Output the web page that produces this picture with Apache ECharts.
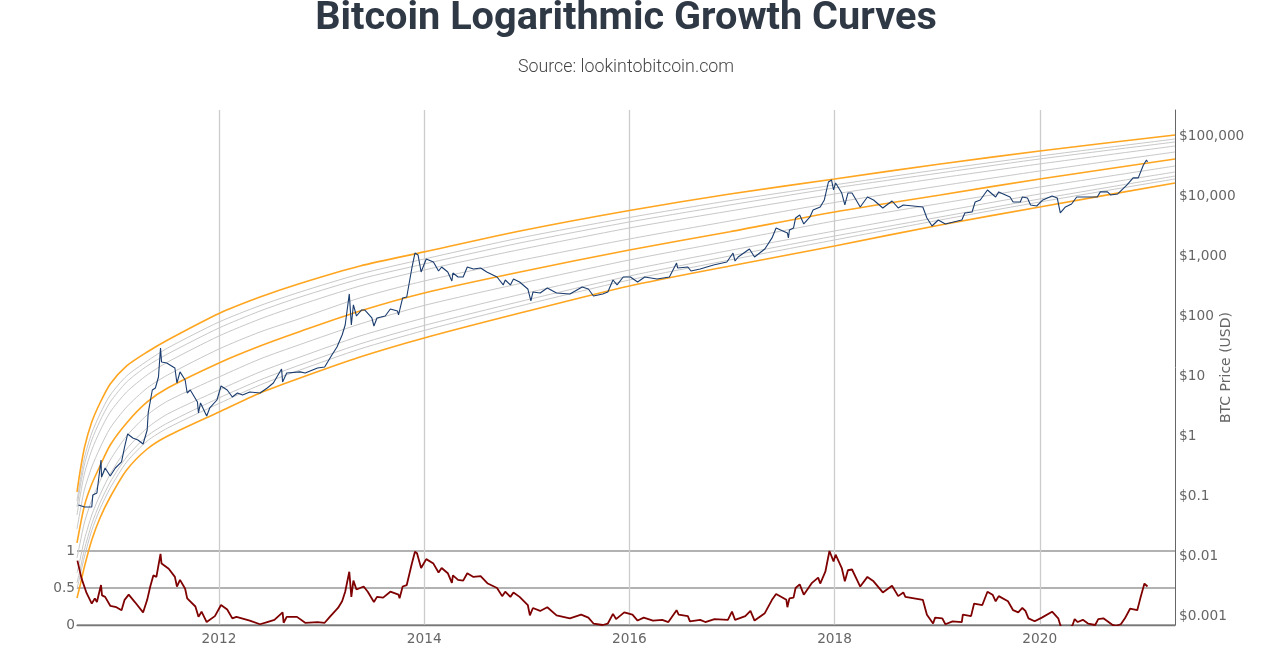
<!DOCTYPE html>
<html lang="en">
<head>
<meta charset="UTF-8">
<title>Bitcoin Logarithmic Growth Curves</title>
<script src="https://cdn.jsdelivr.net/npm/echarts@6/dist/echarts.min.js"></script>
<style>
html,body{margin:0;padding:0;background:#fff}
#chart{width:1280px;height:650px}
</style>
</head>
<body>
<div id="chart"></div>
<script>
var yearTicks = [2012, 2014, 2016, 2018, 2020];
// sample dates (decimal years) for the growth curves
var curveYears = [2010.616, 2010.645, 2010.69, 2010.76, 2010.84, 2010.94, 2011.10, 2011.30, 2011.50, 2012, 2012.40, 2012.79, 2013.374, 2014, 2014.934, 2016, 2016.98, 2018, 2019.03, 2020, 2021.318];
// orange curves
var upperBand = [.117, .251, .656, 1.71, 3.55, 7.36, 14.7, 25.1, 39.8, 110, 207, 348, 681, 1170, 2610, 5730, 10800, 19200, 34200, 56200, 104000];
var middleBand = [.0165, .0304, .0708, .158, .316, .708, 1.65, 3.69, 6.31, 16.5, 31.6, 55.2, 121, 242, 541, 1260, 2540, 5410, 10400, 19200, 41400];
var lowerBand = [.002, .00316, .00681, .0185, .043, .0962, .271, .607, 1, 2.51, 5.21, 9.26, 20.7, 43, 112, 316, 681, 1470, 3290, 6560, 16500];
// gray curves between them
var grayA = [.0825, .171, .447, 1.12, 2.33, 4.82, 10, 17.8, 29.3, 79.4, 149, 251, 501, 891, 2000, 4380, 8370, 15300, 27700, 46400, 89100];
var grayB = [.0656, .136, .342, .858, 1.78, 3.69, 7.94, 14.7, 23.3, 63.1, 121, 207, 414, 736, 1650, 3690, 7080, 13600, 24200, 41400, 79400];
var grayC = [.0482, .0962, .242, .584, 1.21, 2.51, 5.41, 10.4, 17.1, 46.4, 89.1, 153, 316, 584, 1280, 2930, 5620, 10800, 20000, 34200, 68100];
var grayD = [.0282, .0541, .131, .304, .631, 1.36, 3.04, 6.31, 10.4, 28.2, 54.1, 90.7, 200, 383, 841, 1920, 3830, 7790, 14700, 26100, 54100];
var grayE = [.00926, .0162, .0369, .0858, .178, .398, 1, 2.24, 3.83, 9.62, 19.2, 33.5, 73.6, 150, 348, 858, 1780, 3830, 7500, 14100, 31600];
var grayF = [.00521, .00858, .0192, .0482, .104, .233, .607, 1.36, 2.33, 5.84, 11.7, 20.7, 46.4, 92.6, 228, 584, 1240, 2610, 5470, 10800, 25100];
var grayG = [.00355, .00584, .0131, .0342, .0764, .171, .447, 1, 1.65, 4.3, 8.58, 15.3, 34.2, 69.5, 174, 464, 1000, 2150, 4470, 8910, 21500];
var grayH = [.00282, .00464, .01, .0267, .0607, .136, .369, .825, 1.36, 3.48, 7.08, 12.6, 28.2, 57.3, 147, 398, 858, 1850, 3980, 7940, 19200];

// BTC price [year, usd]
var btcPrice = [[2010.63,.0708],[2010.69,.0656],[2010.76,.0656],[2010.77,.104],[2010.81,.112],[2010.85,.398],[2010.855,.207],[2010.89,.293],[2010.94,.215],[2010.99,.293],[2011.05,.369],[2011.08,.656],[2011.11,1.08],[2011.16,.926],[2011.21,.858],[2011.26,.736],[2011.30,1.26],[2011.31,2.42],[2011.35,5.84],[2011.38,6.31],[2011.41,9.62],[2011.43,29.3],[2011.44,17.1],[2011.49,16.5],[2011.57,13.6],[2011.59,7.64],[2011.62,11.7],[2011.67,8.58],[2011.69,5.21],[2011.72,5.84],[2011.79,3.69],[2011.80,2.42],[2011.82,3.55],[2011.88,2.15],[2011.91,2.93],[2011.98,3.98],[2012.02,6.81],[2012.08,5.84],[2012.13,4.47],[2012.18,5.21],[2012.23,4.82],[2012.30,5.41],[2012.40,5.21],[2012.47,6.31],[2012.53,7.64],[2012.61,13.1],[2012.62,7.94],[2012.66,11.2],[2012.79,11.7],[2012.84,11.2],[2012.96,13.6],[2013.03,14.1],[2013.10,22.4],[2013.15,30.4],[2013.20,48.2],[2013.23,70.8],[2013.27,233],[2013.29,70.8],[2013.31,153],[2013.34,100],[2013.39,126],[2013.42,126],[2013.49,92.6],[2013.51,68.1],[2013.54,92.6],[2013.62,100],[2013.67,131],[2013.74,121],[2013.75,104],[2013.79,200],[2013.83,207],[2013.88,631],[2013.91,1120],[2013.94,1040],[2013.97,541],[2014.02,891],[2014.09,794],[2014.14,562],[2014.17,656],[2014.23,541],[2014.27,383],[2014.28,521],[2014.33,447],[2014.38,447],[2014.42,656],[2014.48,607],[2014.55,631],[2014.61,541],[2014.71,447],[2014.77,329],[2014.79,398],[2014.84,329],[2014.87,414],[2014.93,369],[2015.01,282],[2015.04,178],[2015.06,251],[2015.13,242],[2015.20,293],[2015.29,242],[2015.42,233],[2015.54,304],[2015.60,282],[2015.65,215],[2015.74,233],[2015.79,251],[2015.84,398],[2015.88,329],[2015.94,447],[2016.01,447],[2016.08,369],[2016.15,447],[2016.27,414],[2016.39,447],[2016.46,764],[2016.47,631],[2016.57,656],[2016.60,562],[2016.69,607],[2016.82,708],[2016.95,794],[2017.01,1120],[2017.03,825],[2017.06,962],[2017.17,1310],[2017.22,962],[2017.32,1310],[2017.39,2000],[2017.43,2930],[2017.54,2420],[2017.55,2000],[2017.56,2710],[2017.60,2930],[2017.62,4300],[2017.66,4820],[2017.70,3420],[2017.76,4470],[2017.79,5840],[2017.86,6560],[2017.90,8580],[2017.94,17100],[2017.97,18500],[2017.99,12600],[2018.01,16500],[2018.07,11200],[2018.10,7080],[2018.13,11200],[2018.17,11200],[2018.25,6560],[2018.32,9620],[2018.38,8580],[2018.47,6310],[2018.56,8250],[2018.62,6310],[2018.67,7080],[2018.86,6560],[2018.90,4300],[2018.95,3160],[2019.01,3980],[2019.08,3420],[2019.24,3980],[2019.27,5210],[2019.34,5410],[2019.37,7940],[2019.42,8580],[2019.49,12600],[2019.57,9620],[2019.60,11700],[2019.71,9620],[2019.74,7940],[2019.81,7940],[2019.83,9620],[2019.88,9260],[2019.91,7080],[2019.97,6810],[2020.03,8580],[2020.12,10000],[2020.17,9260],[2020.20,5210],[2020.25,6560],[2020.31,7360],[2020.36,9620],[2020.47,9620],[2020.56,9620],[2020.59,11700],[2020.66,11700],[2020.69,10400],[2020.76,10800],[2020.85,15300],[2020.91,20000],[2020.96,20000],[2021.01,32900],[2021.04,39800],[2021.05,36900]];

// oscillator in the lower panel [year, 0..1]
var oscillator = [[2010.62,.87],[2010.66,.63],[2010.71,.43],[2010.76,.29],[2010.79,.36],[2010.81,.31],[2010.85,.54],[2010.86,.40],[2010.89,.38],[2010.94,.26],[2011.00,.24],[2011.05,.20],[2011.08,.34],[2011.12,.41],[2011.18,.31],[2011.26,.17],[2011.30,.34],[2011.33,.52],[2011.36,.67],[2011.39,.65],[2011.43,.96],[2011.44,.83],[2011.51,.76],[2011.57,.65],[2011.59,.52],[2011.62,.61],[2011.67,.49],[2011.69,.36],[2011.77,.25],[2011.80,.11],[2011.83,.18],[2011.88,.04],[2011.96,.12],[2012.02,.27],[2012.08,.21],[2012.13,.09],[2012.17,.11],[2012.30,.06],[2012.40,.01],[2012.47,.04],[2012.54,.07],[2012.62,.17],[2012.63,.03],[2012.66,.11],[2012.76,.11],[2012.84,.03],[2012.96,.04],[2013.03,.03],[2013.08,.11],[2013.16,.23],[2013.20,.32],[2013.23,.45],[2013.27,.72],[2013.29,.38],[2013.31,.60],[2013.34,.48],[2013.41,.52],[2013.45,.45],[2013.51,.31],[2013.54,.38],[2013.60,.37],[2013.67,.45],[2013.75,.41],[2013.76,.36],[2013.79,.52],[2013.83,.54],[2013.88,.83],[2013.91,.99],[2013.93,.97],[2013.97,.77],[2014.02,.89],[2014.09,.83],[2014.14,.71],[2014.17,.77],[2014.23,.70],[2014.27,.57],[2014.28,.67],[2014.33,.61],[2014.38,.60],[2014.42,.70],[2014.48,.65],[2014.55,.66],[2014.62,.56],[2014.71,.50],[2014.76,.39],[2014.79,.45],[2014.84,.38],[2014.87,.44],[2014.93,.38],[2015.01,.27],[2015.03,.13],[2015.06,.23],[2015.13,.19],[2015.20,.24],[2015.29,.13],[2015.42,.09],[2015.53,.14],[2015.60,.10],[2015.65,.02],[2015.74,0],[2015.79,.02],[2015.84,.15],[2015.87,.08],[2015.95,.17],[2016.03,.14],[2016.08,.06],[2016.14,.10],[2016.23,.06],[2016.32,.07],[2016.38,.04],[2016.46,.20],[2016.48,.14],[2016.57,.12],[2016.59,.05],[2016.69,.07],[2016.74,.04],[2016.83,.08],[2016.96,.07],[2017.00,.18],[2017.03,.07],[2017.13,.12],[2017.18,.19],[2017.22,.06],[2017.32,.16],[2017.39,.34],[2017.43,.42],[2017.53,.34],[2017.54,.24],[2017.56,.36],[2017.60,.37],[2017.62,.50],[2017.66,.55],[2017.70,.41],[2017.78,.57],[2017.84,.64],[2017.86,.56],[2017.91,.72],[2017.95,1],[2017.99,.86],[2018.01,.95],[2018.07,.77],[2018.10,.59],[2018.13,.74],[2018.17,.75],[2018.25,.52],[2018.32,.65],[2018.38,.59],[2018.47,.44],[2018.56,.53],[2018.62,.39],[2018.67,.44],[2018.69,.38],[2018.86,.34],[2018.90,.14],[2018.96,.02],[2018.98,.10],[2019.05,.09],[2019.08,.01],[2019.15,.05],[2019.24,.04],[2019.25,.14],[2019.33,.12],[2019.36,.29],[2019.44,.27],[2019.49,.45],[2019.54,.41],[2019.57,.32],[2019.60,.39],[2019.69,.32],[2019.74,.20],[2019.79,.17],[2019.83,.23],[2019.86,.19],[2019.89,.09],[2019.95,.05],[2020.02,.10],[2020.12,.18],[2020.18,.09],[2020.20,0],[2020.22,-.06],[2020.30,-.03],[2020.32,0],[2020.34,.08],[2020.37,.04],[2020.42,.07],[2020.47,.02],[2020.54,0],[2020.57,.08],[2020.62,.09],[2020.67,.04],[2020.71,0],[2020.74,-.01],[2020.79,.01],[2020.83,.09],[2020.88,.22],[2020.95,.20],[2020.98,.36],[2021.02,.56],[2021.05,.52]];

function curveSeries(values, color, width) {
    var pts = [];
    for (var i = 0; i < curveYears.length; i++) {
        pts.push([curveYears[i], values[i]]);
    }
    return {
        type: 'line', xAxisIndex: 0, yAxisIndex: 0, data: pts,
        smooth: 0.25, showSymbol: false, silent: true,
        lineStyle: {color: color, width: width}
    };
}

var GRAY = '#c8c8c8', ORANGE = '#ffa51f';
var seriesList = [];
[grayA, grayB, grayC, grayD, grayE, grayF, grayG, grayH].forEach(function (v) {
    seriesList.push(curveSeries(v, GRAY, 1));
});
[upperBand, middleBand, lowerBand].forEach(function (v) {
    seriesList.push(curveSeries(v, ORANGE, 1.6));
});
seriesList.push({
    type: 'line', xAxisIndex: 0, yAxisIndex: 0, data: btcPrice,
    showSymbol: false, lineStyle: {color: '#1a3c6e', width: 1.1}
});
seriesList.push({
    type: 'line', xAxisIndex: 1, yAxisIndex: 1, data: oscillator,
    showSymbol: false, lineStyle: {color: '#7f0000', width: 1.8}
});

var axisFont = {fontFamily: 'DejaVu Sans', fontSize: 13.7, color: '#666'};

var myChart = echarts.init(document.getElementById('chart'), null, {renderer: 'canvas'});
myChart.setOption({
    animation: false,
    backgroundColor: '#fff',
    title: [
        {text: 'Bitcoin Logarithmic Growth Curves', left: 621, top: -6, textAlign: 'center',
         textStyle: {fontFamily: 'Roboto', fontWeight: 700, fontSize: 39.7, color: '#2f3845'}},
        {text: 'Source: lookintobitcoin.com', left: 621, top: 54, textAlign: 'center',
         textStyle: {fontFamily: 'Roboto', fontWeight: 300, fontSize: 17.8, color: '#444'}}
    ],
    grid: [
        {left: 77, right: 105, top: 110, bottom: 25},
        {left: 77, right: 105, top: 551, bottom: 25}
    ],
    xAxis: [
        {
            type: 'value', gridIndex: 0, min: 2010.616, max: 2021.318, position: 'bottom',
            axisLine: {show: true, onZero: false, lineStyle: {color: '#777', width: 1.3}},
            axisTick: {show: false, customValues: yearTicks},
            axisLabel: Object.assign({customValues: yearTicks, margin: 7, formatter: function (v) { return String(v); }}, axisFont),
            splitLine: {show: true, lineStyle: {color: '#cccccc', width: 1.3}}
        },
        {
            type: 'value', gridIndex: 1, min: 2010.616, max: 2021.318,
            axisLine: {show: false}, axisTick: {show: false}, axisLabel: {show: false}, splitLine: {show: false}
        }
    ],
    yAxis: [
        {
            type: 'log', logBase: 10, gridIndex: 0, position: 'right', min: 0.000708, max: 271000,
            name: 'BTC Price (USD)', nameLocation: 'middle', nameGap: 44, nameRotate: 90, nameMoveOverlap: false,
            nameTextStyle: {fontFamily: 'DejaVu Sans', fontSize: 14, color: '#666'},
            axisLine: {show: true, lineStyle: {color: '#666', width: 1}},
            axisTick: {show: false},
            minorTick: {show: false},
            splitLine: {show: false},
            axisLabel: Object.assign({
                margin: 4, padding: [2, 0, 0, 0], showMinLabel: false, showMaxLabel: false,
                formatter: function (v) {
                    var n = Number(v.toPrecision(3));
                    if (Math.abs(Math.log10(n) - Math.round(Math.log10(n))) > 1e-6) return '';
                    return n >= 1 ? '$' + n.toLocaleString('en-US') : '$' + n;
                }
            }, axisFont)
        },
        {
            type: 'value', gridIndex: 1, position: 'left', min: 0, max: 1, interval: 0.5,
            axisLine: {show: false}, axisTick: {show: false},
            axisLabel: Object.assign({margin: 2, padding: [2, 0, 0, 0]}, axisFont),
            splitLine: {show: true, lineStyle: {color: '#999', width: 1.6}}
        }
    ],
    series: seriesList
});
</script>
</body>
</html>
